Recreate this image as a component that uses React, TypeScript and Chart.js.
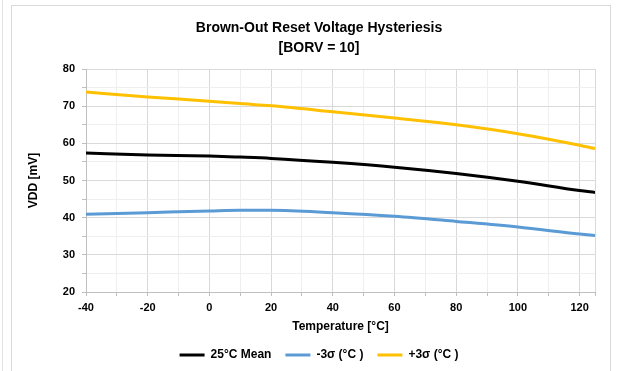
import React, { useEffect, useRef } from "react";
import { Chart, registerables } from "chart.js";

Chart.register(...registerables);

const temperatures = [-40, -20, 0, 10, 20, 40, 60, 80, 100, 120, 125];
const meanValues = [57.4, 56.9, 56.6, 56.3, 55.95, 54.9, 53.6, 51.9, 49.8, 47.3, 46.8];
const minusSigmaValues = [40.9, 41.35, 41.8, 42.0, 42.0, 41.35, 40.4, 39.0, 37.5, 35.6, 35.2];
const plusSigmaValues = [73.8, 72.5, 71.35, 70.7, 70.1, 68.5, 66.8, 65.0, 62.6, 59.5, 58.6];
const seriesLabels = ["25°C Mean", "-3σ (°C )", "+3σ (°C )"];
const titleLines = ["Brown-Out Reset Voltage Hysteriesis", "[BORV = 10]"];
const xAxisTitle = "Temperature [°C]";
const yAxisTitle = "VDD [mV]";
const xTickValues = [-40, -30, -20, -10, 0, 10, 20, 30, 40, 50, 60, 70, 80, 90, 100, 110, 120, 125];

const FONT = "'Liberation Sans', Arial, sans-serif";

export default function App() {
  const canvasRef = useRef<HTMLCanvasElement | null>(null);

  useEffect(() => {
    if (!canvasRef.current) return;
    const toPts = (vals: number[]) => temperatures.map((t, i) => ({ x: t, y: vals[i] }));
    const chart = new Chart(canvasRef.current, {
      type: "line",
      data: {
        datasets: [
          { label: seriesLabels[0], data: toPts(meanValues), borderColor: "#000000", backgroundColor: "#000000", borderWidth: 3, pointRadius: 0, cubicInterpolationMode: "monotone" },
          { label: seriesLabels[1], data: toPts(minusSigmaValues), borderColor: "#5b9bd5", backgroundColor: "#5b9bd5", borderWidth: 3, pointRadius: 0, cubicInterpolationMode: "monotone" },
          { label: seriesLabels[2], data: toPts(plusSigmaValues), borderColor: "#ffc000", backgroundColor: "#ffc000", borderWidth: 3, pointRadius: 0, cubicInterpolationMode: "monotone" },
        ],
      },
      options: {
        animation: false,
        responsive: false,
        maintainAspectRatio: false,
        layout: { padding: { left: 26, right: 9, top: 0, bottom: 0 } },
        plugins: {
          tooltip: { enabled: false },
          title: {
            display: true,
            text: titleLines,
            color: "#000",
            font: { family: FONT, size: 14, weight: "bold", lineHeight: 1.43 },
            padding: { top: 18, bottom: 11 },
          },
          legend: {
            position: "bottom",
            labels: {
              usePointStyle: true,
              pointStyle: "line",
              pointStyleWidth: 25,
              color: "#000",
              font: { family: FONT, size: 12, weight: "bold" },
              padding: 14,
            },
          },
        },
        scales: {
          x: {
            type: "linear",
            min: -40,
            max: 125,
            afterFit: (scale: any) => { scale.height = 43; },
            afterBuildTicks: (scale: any) => { scale.ticks = xTickValues.map((v) => ({ value: v })); },
            ticks: {
              autoSkip: false,
              maxRotation: 0,
              padding: 5,
              color: "#000",
              font: { family: FONT, size: 11, weight: "bold" },
              callback: (v: any) => (Number(v) % 20 === 0 && Number(v) <= 120 ? String(v) : ""),
            },
            grid: {
              color: (ctx: any) => (ctx.tick && (ctx.tick.value % 20 === 0 || ctx.tick.value === 125) ? "#d9d9d9" : "#efefef"),
              tickColor: "#bfbfbf",
              tickLength: 4,
            },
            border: { color: "#bfbfbf" },
            title: {
              display: true,
              text: xAxisTitle,
              color: "#000",
              font: { family: FONT, size: 12, weight: "bold" },
              padding: { top: 0, bottom: 1 },
            },
          },
          y: {
            min: 20,
            max: 80,
            afterFit: (scale: any) => { scale.width = 60; },
            ticks: {
              stepSize: 5,
              autoSkip: false,
              padding: 7,
              color: "#000",
              font: { family: FONT, size: 11, weight: "bold" },
              callback: (v: any) => (Number(v) % 10 === 0 ? String(v) : ""),
            },
            grid: {
              color: (ctx: any) => (ctx.tick && ctx.tick.value % 10 === 0 ? "#d9d9d9" : "#efefef"),
              tickColor: "#bfbfbf",
              tickLength: 4,
            },
            border: { color: "#bfbfbf" },
            title: {
              display: true,
              text: yAxisTitle,
              color: "#000",
              font: { family: FONT, size: 12, weight: "bold" },
              padding: { top: 0, bottom: 0 },
            },
          },
          yRightSpacer: {
            position: "right",
            min: 20,
            max: 80,
            afterFit: (scale: any) => { scale.width = 17; },
            ticks: { display: false },
            grid: { display: false, drawTicks: false },
            border: { display: false },
          },
        },
      },
    } as any);
    return () => chart.destroy();
  }, []);

  return (
    <div style={{ position: "fixed", left: 0, top: 0, width: 621, height: 371, background: "#fff", overflow: "hidden" }}>
      <div style={{ position: "absolute", left: 2, top: 0, width: 1, height: 371, background: "#e3e3e3" }} />
      <div style={{ position: "absolute", left: 11, top: 5, width: 598, height: 400, border: "1px solid #d9d9d9" }} />
      <canvas ref={canvasRef} width={621} height={371} style={{ position: "absolute", left: 0, top: 0, width: 621, height: 371 }} />
    </div>
  );
}
